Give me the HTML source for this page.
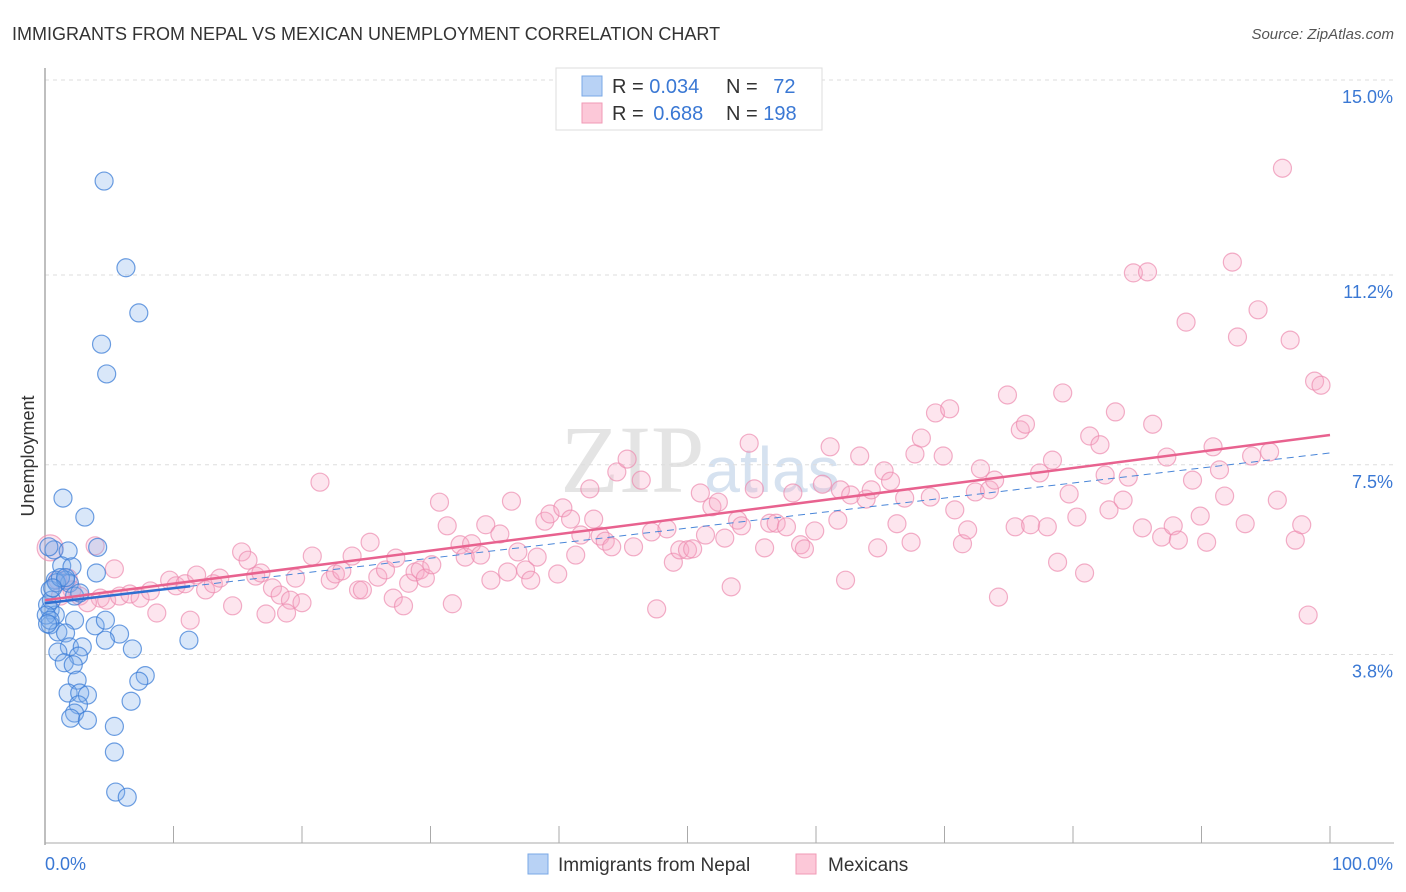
<!DOCTYPE html>
<html><head><meta charset="utf-8"><style>
body{margin:0;background:#fff;font-family:"Liberation Sans",sans-serif;}
#c{position:absolute;left:0;top:0;}
</style></head><body>
<svg id="c" width="1406" height="892">
<text x="12" y="40" font-size="18" fill="#333">IMMIGRANTS FROM NEPAL VS MEXICAN UNEMPLOYMENT CORRELATION CHART</text>
<text x="1394" y="39" font-size="15" fill="#555" font-style="italic" text-anchor="end">Source: ZipAtlas.com</text>
<text x="0" y="0" transform="translate(34,456) rotate(-90)" font-size="18" fill="#333" text-anchor="middle">Unemployment</text>
<text x="700" y="492" font-size="96" fill="#e4e4e4" text-anchor="middle" font-family="Liberation Serif">ZIP<tspan font-family="Liberation Sans" font-size="64" fill="#d6e2f0">atlas</tspan></text>
<g id="grid"></g><g id="axes"></g><g id="pts"></g><g id="trend"></g>
<g>
<rect x="556" y="68" width="266" height="62" fill="#fff" stroke="#ddd"/>
<rect x="582" y="76" width="20" height="20" fill="#b8d2f5" stroke="#7aa8e6"/>
<rect x="582" y="103" width="20" height="20" fill="#fcc8d8" stroke="#f09ab6"/>
<text x="612" y="93" font-size="20" fill="#333">R = <tspan fill="#3a78d4">0.034</tspan></text>
<text x="726" y="93" font-size="20" fill="#333">N = <tspan fill="#3a78d4" dx="10">72</tspan></text>
<text x="612" y="120" font-size="20" fill="#333">R = <tspan fill="#3a78d4" dx="4">0.688</tspan></text>
<text x="726" y="120" font-size="20" fill="#333">N = <tspan fill="#3a78d4">198</tspan></text>
</g>
<g>
<rect x="528" y="854" width="20" height="20" fill="#b8d2f5" stroke="#7aa8e6"/>
<text x="558" y="871" font-size="19" fill="#333">Immigrants from Nepal</text>
<rect x="796" y="854" width="20" height="20" fill="#fcc8d8" stroke="#f09ab6"/>
<text x="828" y="871" font-size="19" fill="#333">Mexicans</text>
</g>
</svg>
<script>
const yTicks=[3.8,7.5,11.2,15.0];
const yTickLabels=["3.8%","7.5%","11.2%","15.0%"];
const xTickLabels=["0.0%","100.0%"];
const nepalX=[4.6,6.3,7.3,4.4,4.8,1.4,3.1,4.1,4.0,0.7,1.8,1.3,2.1,0.8,1.6,1.9,0.4,2.3,2.7,0.4,0.8,0.4,1.0,2.3,1.6,3.9,4.7,5.8,4.7,11.2,6.8,1.9,2.9,1.0,2.6,1.5,2.2,7.8,7.3,2.5,1.8,2.7,3.3,6.7,2.6,2.3,2.0,3.3,5.4,5.4,5.5,6.4,0.2,0.5,0.1,0.4,0.9,1.2,1.6,0.3,0.6,0.2];
const nepalY=[13.03,11.34,10.46,9.85,9.27,6.85,6.48,5.89,5.39,5.84,5.82,5.53,5.51,5.25,5.25,5.19,5.06,4.94,5.0,4.67,4.57,4.38,4.24,4.47,4.22,4.36,4.47,4.2,4.08,4.08,3.91,3.95,3.95,3.85,3.77,3.64,3.6,3.39,3.28,3.3,3.05,3.05,3.01,2.89,2.82,2.66,2.56,2.52,2.4,1.9,1.12,1.02,4.77,4.86,4.57,4.47,5.2,5.3,5.3,5.9,5.1,4.4];
const mexX=[0.4,3.9,5.4,1.0,1.8,2.1,1.2,2.7,4.3,3.3,4.8,5.8,6.6,7.4,8.2,8.7,9.7,10.2,10.9,11.3,11.8,12.5,13.1,13.6,14.6,15.3,15.8,16.4,16.8,17.2,17.7,18.3,19.1,18.8,19.5,20.0,20.8,21.4,22.2,22.6,23.1,23.9,24.4,24.7,25.3,25.9,26.5,27.1,27.3,27.9,28.3,28.8,29.2,29.6,30.1,30.7,31.3,31.7,32.3,32.7,33.2,33.9,34.3,34.7,35.4,36.0,36.3,36.8,37.4,37.8,38.3,38.9,39.3,39.9,40.3,40.9,41.3,41.7,42.4,42.7,43.2,43.6,44.1,44.5,45.3,45.8,46.4,47.2,47.6,48.4,48.9,49.4,50.0,50.4,51.0,51.4,51.9,52.4,52.9,53.4,53.9,54.2,54.8,55.2,56.0,56.4,56.9,57.7,58.2,58.8,59.1,59.9,60.5,61.1,61.7,61.9,62.3,62.7,63.4,63.9,64.3,64.8,65.3,65.8,66.3,66.9,67.4,67.7,68.2,68.9,69.3,69.9,70.4,70.8,71.4,71.8,72.4,72.8,73.5,73.9,74.2,74.9,75.5,75.9,76.3,76.7,77.4,78.0,78.4,78.8,79.2,79.7,80.3,80.9,81.3,82.1,82.5,82.8,83.3,83.9,84.3,84.7,85.4,85.8,86.2,86.9,87.3,87.8,88.2,88.8,89.3,89.9,90.4,90.9,91.4,91.8,92.4,92.8,93.4,93.9,94.4,95.3,95.9,96.3,96.9,97.3,97.8,98.3,98.8,99.3];
const mexY=[5.88,5.92,5.47,5.25,5.29,5.06,4.94,4.94,4.90,4.81,4.86,4.94,4.98,4.90,5.04,4.61,5.25,5.14,5.18,4.47,5.35,5.06,5.18,5.29,4.75,5.80,5.64,5.33,5.39,4.59,5.10,4.96,4.86,4.61,5.29,4.81,5.72,7.16,5.25,5.37,5.43,5.72,5.06,5.06,5.99,5.31,5.45,4.90,5.68,4.75,5.19,5.41,5.45,5.29,5.55,6.77,6.31,4.79,5.94,5.70,5.96,5.74,6.33,5.25,6.15,5.41,6.79,5.80,5.45,5.25,5.70,6.40,6.54,5.37,6.66,6.44,5.74,6.13,7.03,6.44,6.11,6.01,5.90,7.36,7.61,5.90,7.20,6.19,4.69,6.25,5.60,5.84,5.84,5.86,6.95,6.13,6.68,6.77,6.07,5.12,6.42,6.31,7.92,7.03,5.88,6.36,6.36,6.29,6.95,5.94,5.86,6.21,7.12,7.85,6.42,7.01,5.25,6.91,7.67,6.83,7.01,5.88,7.38,7.18,6.35,6.85,5.99,7.71,8.02,6.87,8.51,7.67,8.59,6.62,5.96,6.23,6.97,7.42,7.01,7.20,4.92,8.86,6.29,8.18,8.29,6.33,7.34,6.29,7.59,5.60,8.90,6.93,6.48,5.39,8.06,7.89,7.30,6.62,8.53,6.81,7.26,11.24,6.27,11.26,8.29,6.09,7.65,6.31,6.03,10.28,7.20,6.50,5.99,7.85,7.40,6.89,11.45,9.99,6.35,7.67,10.52,7.75,6.81,13.28,9.93,6.03,6.33,4.57,9.13,9.05];
const nepalTrend=[4.80,7.73]; // y at x=0 and x=100
const nepalSolidEnd=11.3;
const mexTrend=[4.86,8.08];
const NS="http://www.w3.org/2000/svg";
const X0=45,X1=1330,Y0=80;
function sx(v){return X0+(X1-X0)*v/100;}
function sy(v){return Y0+(15-v)*51.3;}
function mk(tag,attrs,parent){const e=document.createElementNS(NS,tag);for(const k in attrs)e.setAttribute(k,attrs[k]);parent.appendChild(e);return e;}
const grid=document.getElementById('grid'),axes=document.getElementById('axes'),pts=document.getElementById('pts'),tr=document.getElementById('trend');
yTicks.forEach((t,i)=>{
 const l=mk('line',{x1:X0,x2:1394,y1:sy(t),y2:sy(t),stroke:'#ddd','stroke-dasharray':'4,4'},grid);
 
 
 const tx=mk('text',{x:1393,y:sy(t)+23,'font-size':18,fill:'#3a78d4','text-anchor':'end'},axes);
 tx.textContent=yTickLabels[i];
 
 
});
const ax=mk('line',{x1:X0,x2:X0,y1:68,y2:845,stroke:'#aaa','stroke-width':1.5},axes);


const bx=mk('line',{x1:X0,x2:1394,y1:843,y2:843,stroke:'#aaa','stroke-width':1},axes);


for(let i=0;i<=10;i++){const t=mk('line',{x1:sx(i*10),x2:sx(i*10),y1:826,y2:843,stroke:'#aaa'},axes);
 
 }
[[0,'start',45],[100,'end',1393]].forEach((d,i)=>{const t=mk('text',{x:d[2],y:870,'font-size':18,fill:'#3a78d4','text-anchor':d[1]},axes);t.textContent=xTickLabels[i];
 
 });
mexX.forEach((x,i)=>{const c=mk('circle',{cx:sx(x),cy:sy(mexY[i]),r:i===0?13:9,fill:'rgba(248,170,198,0.3)',stroke:'rgba(236,140,175,0.7)','stroke-width':1.2},pts);
 
 });
nepalX.forEach((x,i)=>{const c=mk('circle',{cx:sx(x),cy:sy(nepalY[i]),r:9,fill:'rgba(130,175,235,0.3)',stroke:'rgba(60,125,215,0.75)','stroke-width':1.2},pts);
 
 });
function ny(x){return nepalTrend[0]+(nepalTrend[1]-nepalTrend[0])*x/100;}
const nd=mk('line',{x1:sx(nepalSolidEnd),y1:sy(ny(nepalSolidEnd)),x2:sx(100),y2:sy(ny(100)),stroke:'#4a86d8','stroke-width':1,'stroke-dasharray':'7,5'},tr);


const mt=mk('line',{x1:sx(0),y1:sy(mexTrend[0]),x2:sx(100),y2:sy(mexTrend[1]),stroke:'#e8628f','stroke-width':2.5},tr);


const ns=mk('line',{x1:sx(0),y1:sy(ny(0)),x2:sx(nepalSolidEnd),y2:sy(ny(nepalSolidEnd)),stroke:'#2f6fd0','stroke-width':2.5},tr);


</script>
</body></html>
